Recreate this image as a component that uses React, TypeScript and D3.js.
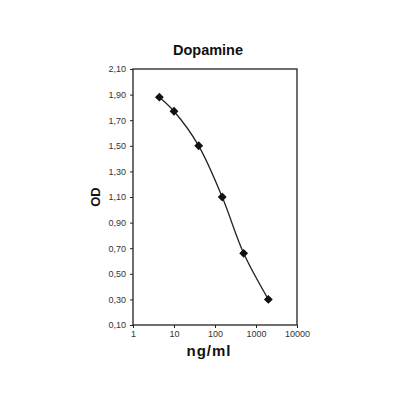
import React, { useEffect, useRef } from 'react';
import * as d3 from 'd3';

// standard curve values
const concentrations = [4.4, 10, 40, 150, 500, 2000];
const odValues = [1.88, 1.77, 1.5, 1.1, 0.66, 0.3];
const xTickValues = [1, 10, 100, 1000, 10000];
const yTickValues = [0.1, 0.3, 0.5, 0.7, 0.9, 1.1, 1.3, 1.5, 1.7, 1.9, 2.1];

const App: React.FC = () => {
  const svgRef = useRef<SVGSVGElement>(null);

  useEffect(() => {
    if (!svgRef.current) return;
    const svg = d3.select(svgRef.current);
    svg.selectAll('*').remove();

    const left = 133;
    const right = 297;
    const top = 69;
    const bottom = 325;

    const x = d3.scaleLog().domain([1, 10000]).range([left, right]);
    const y = d3.scaleLinear().domain([0.1, 2.1]).range([bottom, top]);

    const font = 'Arial, "Liberation Sans", sans-serif';

    // plot frame
    svg
      .append('rect')
      .attr('x', left)
      .attr('y', top)
      .attr('width', right - left)
      .attr('height', bottom - top)
      .attr('fill', 'none')
      .attr('stroke', '#222')
      .attr('stroke-width', 1.3);

    const fmt = (v: number) => v.toFixed(2).replace('.', ',');

    const yAxis = svg
      .append('g')
      .attr('transform', `translate(${left},0)`)
      .call(
        d3
          .axisLeft(y)
          .tickValues(yTickValues)
          .tickSize(3)
          .tickPadding(4)
          .tickFormat((d) => fmt(d as number)),
      );
    yAxis.select('.domain').remove();

    const xAxis = svg
      .append('g')
      .attr('transform', `translate(0,${bottom})`)
      .call(
        d3
          .axisBottom(x)
          .tickValues(xTickValues)
          .tickSize(3)
          .tickPadding(3)
          .tickFormat((d) => String(d)),
      );
    xAxis.select('.domain').remove();

    svg
      .selectAll('.tick line')
      .attr('stroke', '#222')
      .attr('stroke-width', 1);
    svg
      .selectAll('.tick text')
      .attr('font-family', font)
      .attr('font-size', 9)
      .attr('fill', '#333');

    const pts: [number, number][] = concentrations.map((c, i) => [
      x(c),
      y(odValues[i]),
    ]);

    const line = d3.line().curve(d3.curveCatmullRom.alpha(0.5));
    svg
      .append('path')
      .attr('d', line(pts))
      .attr('fill', 'none')
      .attr('stroke', '#222')
      .attr('stroke-width', 1.3);

    const diamond = d3.symbol().type(d3.symbolDiamond2).size(50);
    svg
      .append('g')
      .selectAll('path')
      .data(pts)
      .join('path')
      .attr('transform', (d) => `translate(${d[0]},${d[1]})`)
      .attr('d', diamond)
      .attr('fill', '#111');

    svg
      .append('text')
      .attr('x', 208)
      .attr('y', 55)
      .attr('text-anchor', 'middle')
      .attr('font-family', font)
      .attr('font-weight', 'bold')
      .attr('font-size', 14.5)
      .attr('fill', '#111')
      .text('Dopamine');

    svg
      .append('text')
      .attr('x', 209)
      .attr('y', 356)
      .attr('text-anchor', 'middle')
      .attr('font-family', font)
      .attr('font-weight', 'bold')
      .attr('font-size', 15)
      .attr('letter-spacing', 1)
      .attr('fill', '#111')
      .text('ng/ml');

    svg
      .append('text')
      .attr('transform', `translate(100,${(top + bottom) / 2}) rotate(-90)`)
      .attr('text-anchor', 'middle')
      .attr('font-family', font)
      .attr('font-weight', 'bold')
      .attr('font-size', 13)
      .attr('fill', '#111')
      .text('OD');
  }, []);

  return (
    <svg
      ref={svgRef}
      width={400}
      height={400}
      style={{ position: 'absolute', left: 0, top: 0, background: '#fff' }}
    />
  );
};

export default App;
